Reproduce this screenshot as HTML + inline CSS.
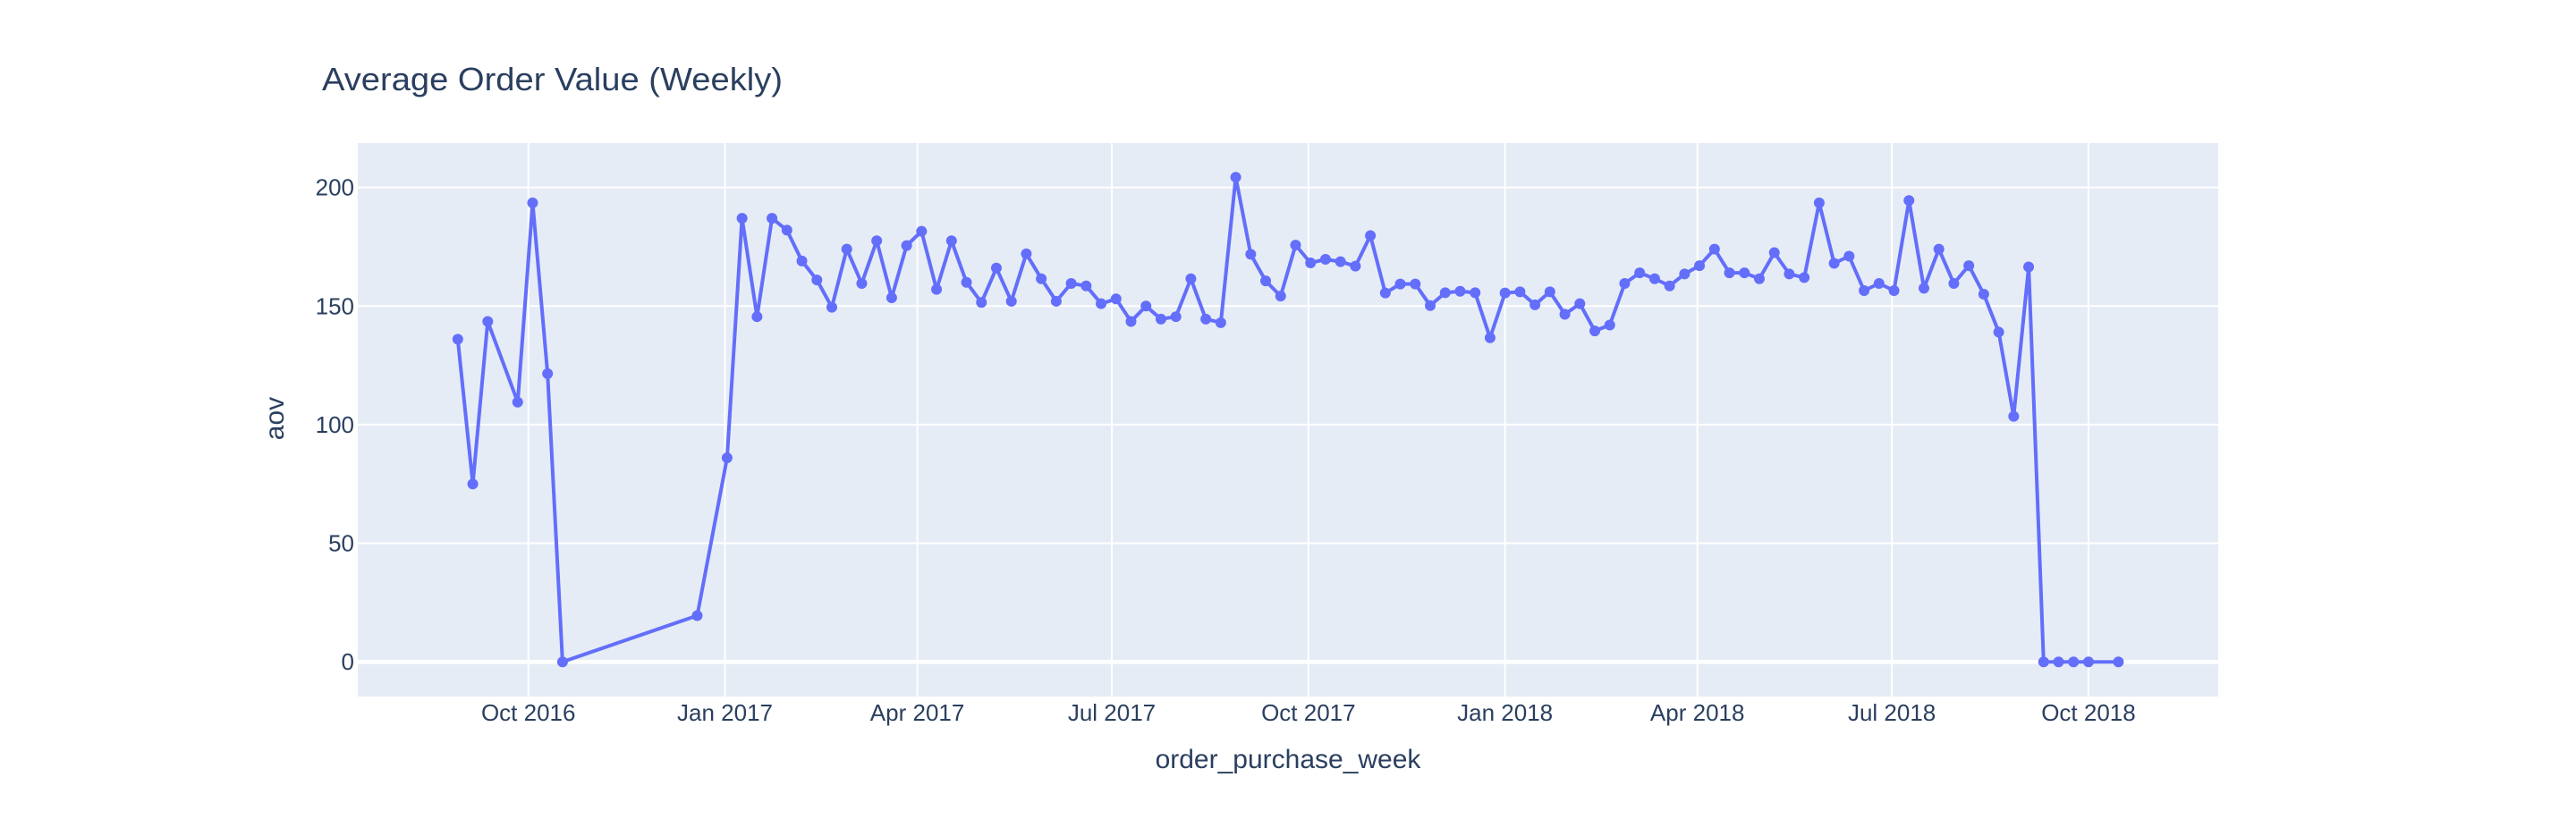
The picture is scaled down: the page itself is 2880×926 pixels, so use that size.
<!DOCTYPE html>
<html><head><meta charset="utf-8"><style>
html,body{margin:0;padding:0;background:#fff;}
svg{display:block;font-family:"Liberation Sans",sans-serif;}
</style></head><body>
<svg id="chart" width="2880" height="926" viewBox="0 0 2880 926" xmlns="http://www.w3.org/2000/svg">
<rect x="0" y="0" width="2880" height="926" fill="#fff"/>
<text x="360" y="101" font-size="36" fill="#2a3f5f" textLength="515" lengthAdjust="spacingAndGlyphs">Average Order Value (Weekly)</text>
<rect x="400" y="160" width="2080" height="619" fill="#e5ecf6"/>
<g id="grid"></g>
<g id="series"></g>
<g id="labels"></g>
<text x="1440" y="859" font-size="30" fill="#2a3f5f" text-anchor="middle">order_purchase_week</text>
<text x="0" y="0" font-size="30" fill="#2a3f5f" text-anchor="middle" transform="translate(317,468) rotate(-90)">aov</text>
</svg>
<script>
// week start dates (Mondays)
const weeks = ["2016-08-29","2016-09-05","2016-09-12","2016-09-26","2016-10-03","2016-10-10","2016-10-17",
"2016-12-19","2017-01-02","2017-01-09","2017-01-16","2017-01-23","2017-01-30","2017-02-06","2017-02-13","2017-02-20","2017-02-27",
"2017-03-06","2017-03-13","2017-03-20","2017-03-27","2017-04-03","2017-04-10","2017-04-17","2017-04-24","2017-05-01","2017-05-08",
"2017-05-15","2017-05-22","2017-05-29","2017-06-05","2017-06-12","2017-06-19","2017-06-26","2017-07-03","2017-07-10","2017-07-17",
"2017-07-24","2017-07-31","2017-08-07","2017-08-14","2017-08-21","2017-08-28","2017-09-04","2017-09-11","2017-09-18","2017-09-25",
"2017-10-02","2017-10-09","2017-10-16","2017-10-23","2017-10-30","2017-11-06","2017-11-13","2017-11-20","2017-11-27","2017-12-04",
"2017-12-11","2017-12-18","2017-12-25","2018-01-01","2018-01-08","2018-01-15","2018-01-22","2018-01-29","2018-02-05","2018-02-12",
"2018-02-19","2018-02-26","2018-03-05","2018-03-12","2018-03-19","2018-03-26","2018-04-02","2018-04-09","2018-04-16","2018-04-23",
"2018-04-30","2018-05-07","2018-05-14","2018-05-21","2018-05-28","2018-06-04","2018-06-11","2018-06-18","2018-06-25","2018-07-02",
"2018-07-09","2018-07-16","2018-07-23","2018-07-30","2018-08-06","2018-08-13","2018-08-20","2018-08-27","2018-09-03","2018-09-10",
"2018-09-17","2018-09-24","2018-10-01","2018-10-15"];
const aov = [136,75,143.5,109.5,193.5,121.5,0,
19.5,86,187,145.5,187,182,169,161,149.5,174,
159.5,177.5,153.5,175.5,181.5,157,177.5,160,151.5,166,
152,172,161.5,152,159.5,158.5,151,153,143.5,150,
144.5,145.5,161.5,144.5,143,204.3,171.8,160.6,154.2,175.7,
168.2,169.7,168.7,166.8,179.7,155.5,159.3,159.3,150.2,155.6,
156.2,155.6,136.6,155.5,156,150.5,156,146.5,151,139.5,
142,159.5,164,161.5,158.5,163.5,167,174,164,164,
161.5,172.5,163.5,162,193.5,168,171,156.5,159.5,156.5,
194.5,157.5,174,159.5,167,155,139,103.5,166.5,0,
0,0,0,0];
const xTickLabels = ["Oct 2016","Jan 2017","Apr 2017","Jul 2017","Oct 2017","Jan 2018","Apr 2018","Jul 2018","Oct 2018"];
const xTickDates = ["2016-10-01","2017-01-01","2017-04-01","2017-07-01","2017-10-01","2018-01-01","2018-04-01","2018-07-01","2018-10-01"];
const yTicks = [0,50,100,150,200];

const NS="http://www.w3.org/2000/svg";
const REF=Date.UTC(2016,9,1);
function days(s){const p=s.split("-");return (Date.UTC(+p[0],+p[1]-1,+p[2])-REF)/86400000;}
function xs(s){return 590.7+days(s)*2.3894;}
function ys(v){return 740.2-v*2.653;}
function mk(tag,attrs,parent){const e=document.createElementNS(NS,tag);for(const k in attrs)e.setAttribute(k,attrs[k]);parent.appendChild(e);return e;}
const grid=document.getElementById("grid"),series=document.getElementById("series"),labels=document.getElementById("labels");
xTickDates.forEach((d,i)=>{
  const x=xs(d);
  const l=mk("line",{x1:x,x2:x,y1:160,y2:779,stroke:"#fff","stroke-width":2},grid);
  
  
  const t=mk("text",{x:x,y:806,"font-size":26,fill:"#2a3f5f","text-anchor":"middle"},labels);
  t.textContent=xTickLabels[i];
  
  
});
yTicks.forEach(v=>{
  const y=ys(v);
  const l=mk("line",{x1:400,x2:2480,y1:y,y2:y,stroke:"#fff","stroke-width":v===0?4.5:2},grid);
  
  
  const t=mk("text",{x:396,y:y+9,"font-size":26,fill:"#2a3f5f","text-anchor":"end"},labels);
  t.textContent=String(v);
  
  
});
const pts=weeks.map((d,i)=>xs(d).toFixed(1)+","+ys(aov[i]).toFixed(1)).join(" ");
const pl=mk("polyline",{points:pts,fill:"none",stroke:"#636efa","stroke-width":4,"stroke-linejoin":"round"},series);


weeks.forEach((d,i)=>{
  const c=mk("circle",{cx:xs(d),cy:ys(aov[i]),r:6,fill:"#636efa"},series);
  
  
});
</script>
</body></html>
